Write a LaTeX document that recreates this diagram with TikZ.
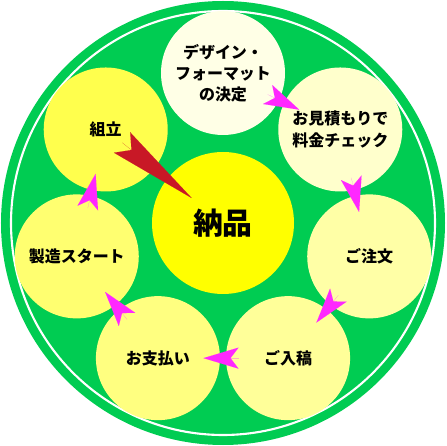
\documentclass[tikz,border=0pt]{standalone}
\usepackage{fontspec}
\newfontfamily\jpfont{Noto Sans CJK JP}
\usetikzlibrary{arrows.meta,calc}

\definecolor{ringgreen}{RGB}{0,204,82}
\definecolor{cHub}{RGB}{255,255,0}
\definecolor{cDesign}{RGB}{255,255,230}
\definecolor{cQuote}{RGB}{255,255,204}
\definecolor{cOrder}{RGB}{255,255,166}
\definecolor{cSubmit}{RGB}{255,255,153}
\definecolor{cPay}{RGB}{255,255,128}
\definecolor{cMake}{RGB}{255,255,112}
\definecolor{cAssemble}{RGB}{255,255,77}
\definecolor{arrowpink}{RGB}{255,40,255}
\definecolor{arrowred}{RGB}{200,24,38}

\begin{document}
\begin{tikzpicture}[
    stage/.style={circle, minimum size=2.48cm, inner sep=0pt, align=center,
        font=\jpfont\bfseries\fontsize{9.1}{12}\selectfont},
    hub/.style={circle, fill=cHub, minimum size=2.84cm, inner sep=0pt,
        font=\jpfont\bfseries\fontsize{17}{20}\selectfont},
    flow/.style={-{Stealth[length=0.7cm, width=0.42cm, inset=0.16cm]}, draw=arrowpink, line width=0.01pt},
    finish/.style={-{Stealth[length=1.78cm, width=0.52cm, inset=0.24cm]}, draw=arrowred, line width=0.01pt}
]
\useasboundingbox (-4.46,-4.46) rectangle (4.46,4.46);

% Background disc with white ring
\fill[ringgreen] (0,0) circle (4.44);
\draw[white, line width=1.2pt] (0,0) circle (4.24);

% Centre
\node[hub] (delivery) at (0,0) {納品};

% Stages round the centre
\node[stage, fill=cDesign] (design) at (90:3) {デザイン・\\フォーマット\\の決定};
\node[stage, fill=cQuote] (quote) at (38.57:3) {お見積もりで\\料金チェック};
\node[stage, fill=cOrder] (order) at (-12.86:3) {ご注文};
\node[stage, fill=cSubmit] (submit) at (-64.29:3) {ご入稿};
\node[stage, fill=cPay] (pay) at (-115.71:3) {お支払い};
\node[stage, fill=cMake] (make) at (-167.14:3) {製造スタート};
\node[stage, fill=cAssemble] (assemble) at (141.43:3) {組立};

% Flow arrows
\draw[flow] ($(design)!0.38!(quote)$) -- ($(design)!0.65!(quote)$);
\draw[flow] ($(quote)!0.38!(order)$) -- ($(quote)!0.65!(order)$);
\draw[flow] ($(order)!0.38!(submit)$) -- ($(order)!0.65!(submit)$);
\draw[flow] ($(submit)!0.38!(pay)$) -- ($(submit)!0.65!(pay)$);
\draw[flow] ($(pay)!0.38!(make)$) -- ($(pay)!0.65!(make)$);
\draw[flow] ($(make)!0.38!(assemble)$) -- ($(make)!0.65!(assemble)$);

% Last step into the centre
\draw[finish] ($(assemble)!0.14!(delivery)$) -- ($(assemble)!0.733!(delivery)$);

\end{tikzpicture}
\end{document}
